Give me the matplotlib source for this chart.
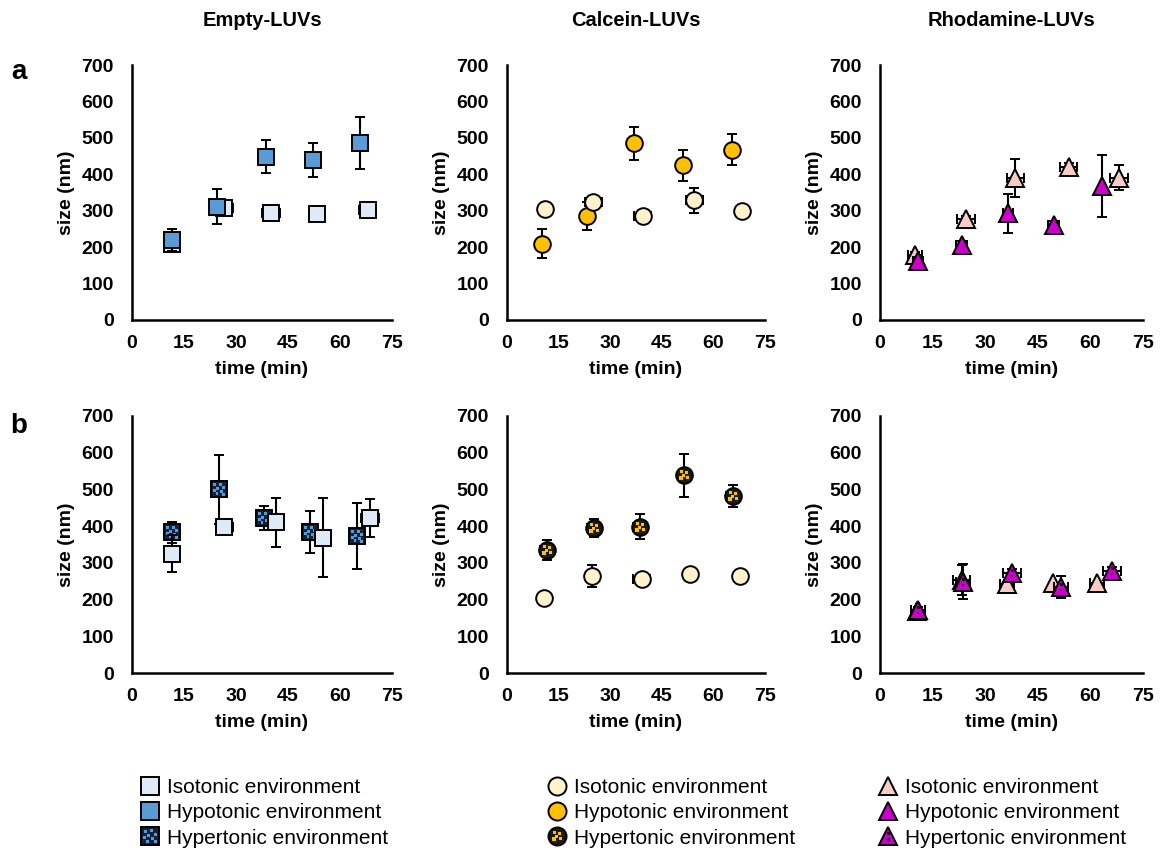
import numpy as np
import matplotlib
matplotlib.use("Agg")
import matplotlib.pyplot as plt
from matplotlib.path import Path
from matplotlib.lines import Line2D

plt.rcParams['font.family'] = ['Liberation Sans', 'DejaVu Sans']

# ---- data (time in min, size in nm) ----
# row a, Empty-LUVs
a_empty_iso_t = [11.5, 26.5, 40.1, 53.5, 68.0]
a_empty_iso_size = [208, 307, 293, 291, 302]
a_empty_iso_terr = [1.5, 2.5, 2.5, 1.0, 2.5]
a_empty_iso_err = [0, 0, 0, 0, 0]
a_empty_hypo_t = [11.5, 24.6, 38.7, 52.2, 65.8]
a_empty_hypo_size = [220, 311, 448, 439, 485]
a_empty_hypo_terr = [1.5, 1.5, 1.5, 1.5, 1.5]
a_empty_hypo_err = [30, 48, 45, 47, 71]

# row a, Calcein-LUVs
a_calc_iso_t = [11.1, 25.1, 39.4, 54.5, 68.2]
a_calc_iso_size = [305, 325, 285, 329, 300]
a_calc_iso_terr = [0, 2.5, 2.5, 2.5, 0]
a_calc_iso_err = [0, 0, 0, 34, 0]
a_calc_hypo_t = [10.1, 23.2, 37.0, 51.3, 65.5]
a_calc_hypo_size = [210, 285, 485, 425, 468]
a_calc_hypo_terr = [0, 0, 0, 0, 0]
a_calc_hypo_err = [39, 38, 46, 43, 42]

# row a, Rhodamine-LUVs
a_rhod_iso_t = [10.1, 24.5, 38.6, 53.8, 68.2]
a_rhod_iso_size = [178, 276, 389, 421, 391]
a_rhod_iso_terr = [2.0, 2.5, 2.5, 2.5, 2.5]
a_rhod_iso_err = [10, 10, 52, 10, 35]
a_rhod_hypo_t = [10.9, 23.3, 36.5, 49.5, 63.4]
a_rhod_hypo_size = [163, 206, 293, 261, 368]
a_rhod_hypo_terr = [1.5, 1.5, 1.5, 1.5, 0]
a_rhod_hypo_err = [10, 10, 53, 10, 84]

# row b, Empty-LUVs
b_empty_hyper_t = [11.5, 25.2, 38.2, 51.3, 64.8]
b_empty_hyper_size = [383, 500, 422, 384, 372]
b_empty_hyper_terr = [1.5, 0, 1.5, 0, 0]
b_empty_hyper_err = [28, 95, 32, 56, 90]
b_empty_iso_t = [11.5, 26.6, 41.5, 55.0, 68.7]
b_empty_iso_size = [325, 397, 411, 369, 422]
b_empty_iso_terr = [0, 2.5, 0, 0, 2.5]
b_empty_iso_err = [50, 0, 67, 107, 51]

# row b, Calcein-LUVs
b_calc_hyper_t = [11.7, 25.4, 38.7, 51.5, 65.6]
b_calc_hyper_size = [334, 395, 399, 538, 481]
b_calc_hyper_terr = [2, 2, 2, 0, 2]
b_calc_hyper_err = [27, 25, 33, 58, 30]
b_calc_iso_t = [10.7, 24.8, 39.2, 53.2, 67.6]
b_calc_iso_size = [205, 265, 256, 270, 263]
b_calc_iso_terr = [0, 0, 2.5, 0, 0]
b_calc_iso_err = [0, 30, 0, 0, 0]

# row b, Rhodamine-LUVs
b_rhod_iso_t = [10.5, 23.3, 36.1, 49.2, 61.9]
b_rhod_iso_size = [170, 253, 242, 244, 244]
b_rhod_iso_terr = [0, 2.5, 2.0, 0, 2.0]
b_rhod_iso_err = [0, 40, 0, 0, 0]
b_rhod_hyper_t = [10.7, 23.8, 37.6, 51.7, 66.2]
b_rhod_hyper_size = [171, 249, 272, 234, 278]
b_rhod_hyper_terr = [2, 2, 2.5, 2, 2.5]
b_rhod_hyper_err = [10, 48, 10, 30, 10]

col_titles = ["Empty-LUVs", "Calcein-LUVs", "Rhodamine-LUVs"]
row_letters = ["a", "b"]
legend_labels = ["Isotonic environment", "Hypotonic environment", "Hypertonic environment"]
x_ticks = [0, 15, 30, 45, 60, 75]
y_ticks = [0, 100, 200, 300, 400, 500, 600, 700]

# ---- styles ----
shapes = ["s", "o", "^"]
iso_col = ["#DEEBF7", "#FFF2CC", "#F8CBC5"]
hypo_col = ["#5B9BD5", "#FFC000", "#CC00CC"]
hyper_base = ["#14213a", "#1a1a1a", "#CC00CC"]
hyper_dots = ["#5B9BD5", "#FFC000", "#111111"]
msize = [11.5, 12, 12.5]


def dot_marker(dots, s=0.16):
    # small squares inside a [-1, 1] box; corner anchors keep the scale
    verts = [(-1, -1), (1, 1)]
    codes = [Path.MOVETO, Path.MOVETO]
    for cx, cy in dots:
        verts += [(cx - s, cy - s), (cx + s, cy - s), (cx + s, cy + s),
                  (cx - s, cy + s), (cx - s, cy - s)]
        codes += [Path.MOVETO, Path.LINETO, Path.LINETO, Path.LINETO, Path.CLOSEPOLY]
    return Path(verts, codes)


dot_paths = [
    dot_marker([(-0.55, 0.55), (0.15, 0.6), (0.6, 0.2), (-0.15, 0.05), (-0.6, -0.2),
                (0.3, -0.3), (-0.25, -0.6), (0.6, -0.65)], s=0.17),
    dot_marker([(-0.3, 0.4), (0.3, 0.3), (-0.05, -0.05), (0.4, -0.3), (-0.35, -0.35)], s=0.19),
    dot_marker([(0.0, -0.35), (0.05, 0.25)], s=0.16),
]

fig = plt.figure(figsize=(11.6, 8.5), dpi=100)
W, H = 1160, 850
col_px = [(132, 392), (507, 765), (880, 1143)]
row_px = [(65, 320), (416, 673)]

data = {
    (0, 0): [("iso", a_empty_iso_t, a_empty_iso_size, a_empty_iso_terr, a_empty_iso_err),
             ("hypo", a_empty_hypo_t, a_empty_hypo_size, a_empty_hypo_terr, a_empty_hypo_err)],
    (0, 1): [("hypo", a_calc_hypo_t, a_calc_hypo_size, a_calc_hypo_terr, a_calc_hypo_err),
             ("iso", a_calc_iso_t, a_calc_iso_size, a_calc_iso_terr, a_calc_iso_err)],
    (0, 2): [("iso", a_rhod_iso_t, a_rhod_iso_size, a_rhod_iso_terr, a_rhod_iso_err),
             ("hypo", a_rhod_hypo_t, a_rhod_hypo_size, a_rhod_hypo_terr, a_rhod_hypo_err)],
    (1, 0): [("hyper", b_empty_hyper_t, b_empty_hyper_size, b_empty_hyper_terr, b_empty_hyper_err),
             ("iso", b_empty_iso_t, b_empty_iso_size, b_empty_iso_terr, b_empty_iso_err)],
    (1, 1): [("iso", b_calc_iso_t, b_calc_iso_size, b_calc_iso_terr, b_calc_iso_err),
             ("hyper", b_calc_hyper_t, b_calc_hyper_size, b_calc_hyper_terr, b_calc_hyper_err)],
    (1, 2): [("iso", b_rhod_iso_t, b_rhod_iso_size, b_rhod_iso_terr, b_rhod_iso_err),
             ("hyper", b_rhod_hyper_t, b_rhod_hyper_size, b_rhod_hyper_terr, b_rhod_hyper_err)],
}

for r, (top, bot) in enumerate(row_px):
    for c, (x0, x1) in enumerate(col_px):
        ax = fig.add_axes([x0 / W, 1 - bot / H, (x1 - x0) / W, (bot - top) / H])
        z = 3
        for kind, t, s, terr, serr in data[(r, c)]:
            if kind == "iso":
                face = iso_col[c]
            elif kind == "hypo":
                face = hypo_col[c]
            else:
                face = hyper_base[c]
            ax.errorbar(t, s, yerr=serr, xerr=terr, fmt=shapes[c], ms=msize[c],
                        mfc=face, mec="black", mew=1.4, ecolor="black",
                        elinewidth=1.5, capsize=3.5, capthick=1.5,
                        zorder=z, clip_on=False)
            if kind == "hyper":
                ax.plot(t, s, linestyle="none", marker=dot_paths[c], ms=msize[c],
                        mfc=hyper_dots[c], mew=0, zorder=z + 0.5, clip_on=False)
            z += 1
        ax.set_xlim(0, 75)
        ax.set_ylim(0, 700)
        ax.set_xticks(x_ticks)
        ax.set_yticks(y_ticks)
        for sp in ["top", "right"]:
            ax.spines[sp].set_visible(False)
        for sp in ["left", "bottom"]:
            ax.spines[sp].set_linewidth(1.8)
        ax.tick_params(axis="both", length=0, labelsize=14)
        ax.tick_params(axis="y", pad=13)
        ax.tick_params(axis="x", pad=11)
        for lab in ax.get_xticklabels() + ax.get_yticklabels():
            lab.set_fontweight("bold")
        ax.set_xlabel("time (min)", fontsize=14, fontweight="bold", labelpad=6)
        ax.set_ylabel("size (nm)", fontsize=14, fontweight="bold", labelpad=5)

for c, (x0, x1) in enumerate(col_px):
    fig.text((x0 + x1) / 2 / W, 1 - 21 / H, col_titles[c], ha="center", va="center",
             fontsize=14.5, fontweight="bold")
for r, yy in enumerate([79, 433]):
    fig.text(19 / W, 1 - yy / H, row_letters[r], ha="center", va="baseline",
             fontsize=20, fontweight="bold")

# legends, one per column
leg_x = [140, 547, 878]
for c in range(3):
    h_iso = Line2D([], [], linestyle="none", marker=shapes[c], ms=msize[c] + 1,
                   mfc=iso_col[c], mec="black", mew=1.4)
    h_hypo = Line2D([], [], linestyle="none", marker=shapes[c], ms=msize[c] + 1,
                    mfc=hypo_col[c], mec="black", mew=1.4)
    h_base = Line2D([], [], linestyle="none", marker=shapes[c], ms=msize[c] + 1,
                    mfc=hyper_base[c], mec="black", mew=1.4)
    h_dots = Line2D([], [], linestyle="none", marker=dot_paths[c], ms=msize[c] + 1,
                    mfc=hyper_dots[c], mew=0)
    fig.legend([h_iso, h_hypo, (h_base, h_dots)], legend_labels,
               loc="upper left", bbox_to_anchor=(leg_x[c] / W, 1 - 778 / H),
               frameon=False, borderpad=0, borderaxespad=0, fontsize=15,
               handlelength=1.0, handletextpad=0.3, labelspacing=0.3)

fig.savefig("out.png", dpi=100)
